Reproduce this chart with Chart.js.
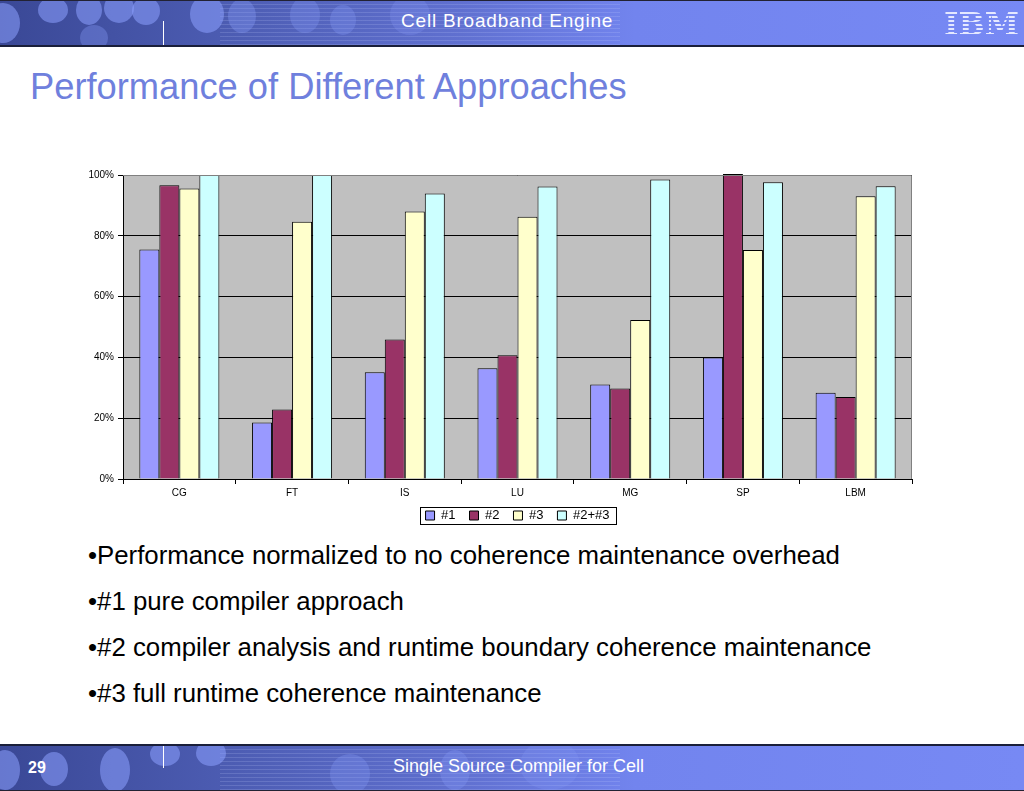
<!DOCTYPE html>
<html>
<head>
<meta charset="utf-8">
<script src="https://cdn.jsdelivr.net/npm/chart.js@4.4.0/dist/chart.umd.min.js"></script>
<style>
body{margin:0;width:1024px;height:791px;background:#fff;font-family:"Liberation Sans",Arial,sans-serif;position:relative;overflow:hidden}
.band{position:absolute;left:0;width:1024px;overflow:hidden;
  background:linear-gradient(90deg,#3a4896 0%,#4c5cb2 22%,#6070d0 45%,#7284ee 62%,#7789f4 100%);}
#top{top:0;height:44px;border-top:1px solid #223;border-bottom:2px solid #1a1f3a}
#bottom{top:744px;height:44px;border-top:2px solid #1a1f3a;border-bottom:1px solid #223}
.dot{position:absolute;border-radius:50%;background:rgba(140,160,255,.55)}
.lines{position:absolute;top:0;height:100%;left:220px;width:400px;
  background:repeating-linear-gradient(0deg,rgba(200,210,255,.18) 0 1px,transparent 1px 4px);}
.vl{position:absolute;width:1px;background:#fff}
.bandtxt{position:absolute;color:#fff;font-size:19px;white-space:nowrap}
#ibm{position:absolute;left:944px;top:5px;font-family:"DejaVu Serif",serif;font-weight:bold;font-size:31px;letter-spacing:0;
  color:transparent;background:repeating-linear-gradient(0deg,#e4e8ff 0 2px,transparent 2px 4px);-webkit-background-clip:text;background-clip:text}
#title{position:absolute;left:30px;top:66px;font-size:36.3px;color:#6f80dd;white-space:nowrap}
.bul{position:absolute;left:88px;font-size:25.8px;color:#000;white-space:nowrap}
#wrap{position:absolute;left:60px;top:160px;width:900px;height:379px}
</style>
</head>
<body>
<div id="top" class="band">
  <div class="lines"></div>
  <div class="dot" style="left:-14px;top:2px;width:34px;height:40px"></div>
  <div class="dot" style="left:38px;top:-4px;width:30px;height:26px"></div>
  <div class="dot" style="left:76px;top:-6px;width:26px;height:30px"></div>
  <div class="dot" style="left:104px;top:-8px;width:30px;height:30px"></div>
  <div class="dot" style="left:132px;top:-4px;width:28px;height:28px"></div>
  <div class="dot" style="left:80px;top:24px;width:28px;height:26px;opacity:.6"></div>
  <div class="dot" style="left:190px;top:-6px;width:34px;height:38px"></div>
  <div class="dot" style="left:228px;top:-2px;width:28px;height:34px;opacity:.6"></div>
  <div class="dot" style="left:290px;top:-4px;width:30px;height:36px;opacity:.5"></div>
  <div class="dot" style="left:330px;top:4px;width:26px;height:30px;opacity:.5"></div>
  <div class="dot" style="left:390px;top:-6px;width:40px;height:40px;opacity:.4"></div>
  <div class="vl" style="left:163px;top:20px;height:26px"></div>
  <div class="bandtxt" style="left:401px;top:9px;letter-spacing:0.8px">Cell Broadband Engine</div>
  <div id="ibm">IBM</div>
</div>

<div id="title">Performance of Different Approaches</div>

<div id="wrap"><canvas id="chart"></canvas></div>

<div class="bul" style="top:541px">•Performance normalized to no coherence maintenance overhead</div>
<div class="bul" style="top:587px">•#1 pure compiler approach</div>
<div class="bul" style="top:633px">•#2 compiler analysis and runtime boundary coherence maintenance</div>
<div class="bul" style="top:679px">•#3 full runtime coherence maintenance</div>

<div id="bottom" class="band">
  <div class="lines"></div>
  <div class="dot" style="left:-10px;top:4px;width:30px;height:40px"></div>
  <div class="dot" style="left:40px;top:6px;width:28px;height:34px"></div>
  <div class="dot" style="left:100px;top:2px;width:30px;height:44px"></div>
  <div class="dot" style="left:150px;top:-4px;width:30px;height:24px"></div>
  <div class="dot" style="left:196px;top:-6px;width:30px;height:26px"></div>
  <div class="dot" style="left:330px;top:8px;width:40px;height:40px;opacity:.5"></div>
  <div class="dot" style="left:440px;top:4px;width:30px;height:40px;opacity:.5"></div>
  <div class="dot" style="left:520px;top:-6px;width:60px;height:50px;opacity:.35"></div>
  <div class="vl" style="left:163px;top:0;height:22px"></div>
  <div class="bandtxt" style="left:28px;top:13px;font-size:16px;font-weight:bold">29</div>
  <div class="bandtxt" style="left:393px;top:10px;font-size:18px">Single Source Compiler for Cell</div>
</div>

<script>
'use strict';

// benchmarks
const categories = ['CG', 'FT', 'IS', 'LU', 'MG', 'SP', 'LBM'];
const seriesNames = ['#1', '#2', '#3', '#2+#3'];
// performance, % of the no-coherence run
const pure = [75.5, 18.6, 35.1, 36.4, 31.1, 40.0, 28.4];
const boundary = [96.6, 22.9, 45.9, 40.7, 29.8, 100.3, 27.0];
const fullRuntime = [95.6, 84.6, 88.0, 86.3, 52.3, 75.3, 93.0];
const combined = [100, 100, 93.9, 96.2, 98.5, 97.6, 96.3];
const yTicks = [0, 20, 40, 60, 80, 100];

const colours = ['#9999ff', '#993366', '#ffffcc', '#ccffff'];
const values = [pure, boundary, fullRuntime, combined];
const tickFont = {family: '"Liberation Sans", Arial, sans-serif', size: 10};

// grey plot area + grey frame, like the excel chart
const plotArea = {
	id: 'plotArea',
	beforeDraw(chart) {
		let a = chart.chartArea, ctx = chart.ctx;
		ctx.save();
		ctx.fillStyle = '#c0c0c0';
		ctx.fillRect(a.left, a.top, a.right - a.left, a.bottom - a.top);
		ctx.restore();
	},
	afterLayout(chart) {
		// center the legend under the plot, not the canvas, and pull it up a bit
		let lg = chart.legend;
		lg.left = chart.chartArea.left;
		lg.right = chart.chartArea.right;
		lg.width = lg.right - lg.left;
		lg.top -= 5;
		lg.bottom -= 5;
	},
	afterDraw(chart) {
		let a = chart.chartArea, ctx = chart.ctx;
		ctx.save();
		ctx.strokeStyle = '#808080';
		ctx.lineWidth = 1;
		ctx.beginPath();
		ctx.moveTo(a.left, a.top + 0.5);
		ctx.lineTo(a.right - 0.5, a.top + 0.5);
		ctx.lineTo(a.right - 0.5, a.bottom);
		ctx.stroke();
		// box round the legend
		let boxes = chart.legend.legendHitBoxes;
		if (boxes.length) {
			let x0 = Math.min(...boxes.map(b => b.left)) - 6;
			let x1 = Math.max(...boxes.map(b => b.left + b.width)) + 6;
			let y0 = Math.min(...boxes.map(b => b.top)) - 2;
			let y1 = Math.max(...boxes.map(b => b.top + b.height)) + 2;
			ctx.strokeStyle = '#000';
			ctx.strokeRect(Math.round(x0) + 0.5, Math.round(y0) + 0.5, Math.round(x1 - x0), Math.round(y1 - y0));
		}
		ctx.restore();
	}
};

let datasets = [];
for (let i = 0; i < seriesNames.length; i++) {
	datasets.push({
		label: seriesNames[i],
		data: values[i],
		backgroundColor: colours[i],
		borderColor: '#000',
		borderWidth: 1,
		clip: false
	});
}

new Chart(document.getElementById('chart'), {
	type: 'bar',
	data: {labels: categories, datasets: datasets},
	plugins: [plotArea],
	options: {
		responsive: true,
		maintainAspectRatio: false,
		animation: false,
		layout: {padding: {left: 23, right: 48, top: 15, bottom: 2}},
		datasets: {bar: {barPercentage: 1, categoryPercentage: 0.71}},
		plugins: {
			tooltip: {enabled: false},
			legend: {
				position: 'bottom',
				labels: {
					boxWidth: 9, boxHeight: 9, padding: 14,
					color: '#000',
					font: {family: '"Liberation Sans", Arial, sans-serif', size: 13}
				}
			}
		},
		scales: {
			x: {
				afterFit(s) { s.height = 21; },
				grid: {drawOnChartArea: false, color: '#000', tickLength: 5, offset: true},
				border: {color: '#000'},
				ticks: {color: '#000', padding: 3, font: tickFont}
			},
			y: {
				min: 0, max: 100,
				afterFit(s) { s.width = 40; },
				afterBuildTicks(s) { s.ticks = yTicks.map(v => ({value: v})); },
				grid: {color: '#000', tickLength: 5},
				border: {color: '#000'},
				ticks: {
					color: '#000', padding: 4, font: tickFont,
					callback: v => v + '%'
				}
			}
		}
	}
});
</script>
</body>
</html>
